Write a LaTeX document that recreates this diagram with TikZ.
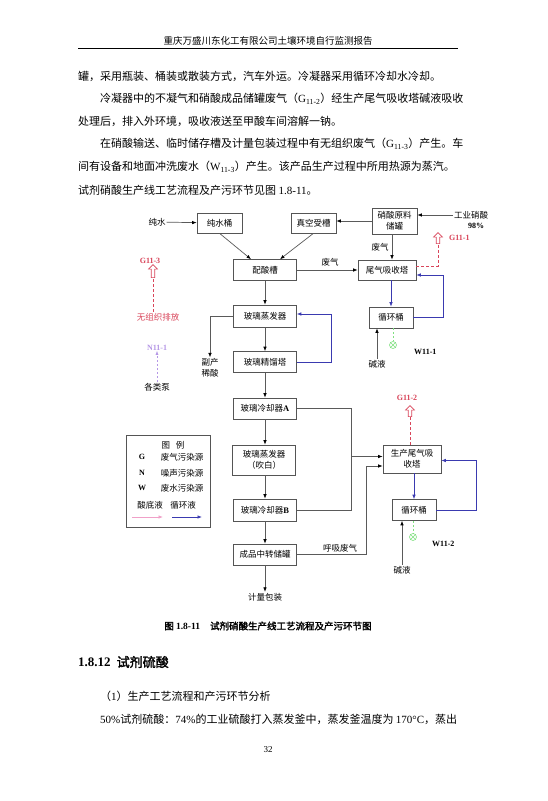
\documentclass[tikz,border=0pt]{standalone}
\usepackage{fontspec}
\setmainfont{Noto Sans CJK SC}[AutoFakeBold=2]
\newfontfamily\tnr{Liberation Serif}
\usetikzlibrary{arrows.meta,shapes.geometric,shapes.arrows}
\definecolor{boxgray}{HTML}{555555}
\definecolor{lgray}{HTML}{5a5a5a}
\definecolor{fblue}{HTML}{3a3ab0}
\definecolor{gred}{HTML}{d9455a}
\definecolor{ggreen}{HTML}{7fe07f}
\definecolor{npurple}{HTML}{b597e6}
\definecolor{lpink}{HTML}{f0a0c8}
\tikzset{
 dtext/.style={font=\fontsize{8.5}{11}\selectfont, align=center, inner sep=1pt},
 box/.style={dtext, draw=boxgray, line width=0.6pt, minimum height=21pt, minimum width=63pt, fill=white},
 flow/.style={draw=lgray, line width=0.7pt, -{Latex[length=4.5pt,width=3.5pt,color=black]}},
 plain/.style={draw=lgray, line width=0.7pt},
 bflow/.style={draw=fblue, line width=0.7pt, -{Latex[length=4.5pt,width=3.5pt]}},
 rdash/.style={draw=gred, line width=0.6pt, dash pattern=on 3pt off 2pt},
 gdash/.style={draw=ggreen, line width=0.6pt, dash pattern=on 2pt off 2pt},
 pflow/.style={draw=npurple, line width=0.6pt, dash pattern=on 2pt off 2pt, -{Latex[length=4pt,width=3pt]}},
 house/.style={single arrow, draw=gred, fill=white, shape border rotate=90, minimum height=11pt, minimum width=9pt, single arrow head extend=1.8pt, inner sep=0.8pt, line width=0.6pt},
 lab/.style={font=\tnr\bfseries\fontsize{8}{9}\selectfont, inner sep=0pt},
 wsym/.style={circle, draw=ggreen, minimum size=7pt, inner sep=0pt, line width=0.6pt},
 body/.style={font=\fontsize{11}{13}\selectfont, anchor=west, inner sep=0pt},
}
\begin{document}
\begin{tikzpicture}[x=1pt,y=-1pt]
\fill[white] (0,0) rectangle (547,801);
\useasboundingbox (0,0) rectangle (547,801);
% header
\node[font=\fontsize{9.5}{11}\selectfont, inner sep=0pt] (hdr) at (268,41) {重庆万盛川东化工有限公司土壤环境自行监测报告};
\coordinate (hl) at (78,48);
\coordinate (hr) at (458,48);
\draw[line width=0.8pt] (hl) -- (hr);
% body text
\node[body] (l1) at (78,76) {罐，采用瓶装、桶装或散装方式，汽车外运。冷凝器采用循环冷却水冷却。};
\node[body] (l2) at (100,99) {冷凝器中的不凝气和硝酸成品储罐废气（{\tnr G\textsubscript{11-2}}）经生产尾气吸收塔碱液吸收};
\node[body] (l3) at (78,121) {处理后，排入外环境，吸收液送至甲酸车间溶解一钠。};
\node[body] (l4) at (100,144) {在硝酸输送、临时储存槽及计量包装过程中有无组织废气（{\tnr G\textsubscript{11-3}}）产生。车};
\node[body] (l5) at (78,167) {间有设备和地面冲洗废水（{\tnr W\textsubscript{11-3}}）产生。该产品生产过程中所用热源为蒸汽。};
\node[body] (l6) at (78,190) {试剂硝酸生产线工艺流程及产污环节见图 {\tnr 1.8-11}。};
% top row
\node[dtext] (cs) at (157,222) {纯水};
\node[box, minimum width=45pt, minimum height=20pt] (cstong) at (219.5,223) {纯水桶};
\node[box, minimum width=45pt, minimum height=20pt] (zkst) at (313.5,223) {真空受槽};
\node[box, minimum width=45pt, minimum height=26pt] (xsyl) at (394.5,221) {硝酸原料\\储罐};
\node[dtext] (gy) at (471,215) {工业硝酸};
\node[lab] (p98) at (476,226) {98\%};
\draw[flow] (cs) -- (cstong);
\draw[flow] (gy.west) -- (gy.west -| xsyl.east);
\draw[flow] ([yshift=2pt]xsyl.west |- zkst) -- ([yshift=2pt]zkst.east);
% mixing
\node[box] (psc) at (265,270) {配酸槽};
\draw[flow] (cstong.south) -- ([xshift=-14pt]psc.north);
\draw[flow] (zkst.south) -- ([xshift=15pt]psc.north);
\node[box, minimum width=58pt, minimum height=20pt] (wq) at (387,270) {尾气吸收塔};
\draw[flow] (psc) -- (wq);
\node[dtext] (fq1) at (330,262) {废气};
\draw[flow] ([xshift=-2.5pt]xsyl.south) -- ([xshift=-2.5pt]xsyl.south |- wq.north);
\node[dtext] (fq2) at (380,247) {废气};
\node[box, minimum width=44pt] (xht1) at (391,317.5) {循环桶};
\draw[bflow] (xht1.north |- wq.south) -- (xht1.north);
\draw[bflow] (xht1.east) -- ++(30,0) |- ([yshift=-5pt]wq.east);
\node[house] (hs1) at (438,239) {};
\node[lab, text=gred, anchor=west] (g111) at (449,238) {G11-1};
\draw[rdash] ([yshift=4pt]wq.east) -| (hs1.tail);
\node[dtext] (jy1) at (377,364) {碱液};
\draw[flow] (jy1.north) -- (jy1.north |- xht1.south);
\node[wsym] (w1) at (393,345) {};
\draw[ggreen, line width=0.5pt] (w1.45) -- (w1.225) (w1.135) -- (w1.315);
\draw[gdash] (w1 |- xht1.south) -- (w1.north);
\node[lab, anchor=west] (w111) at (414,352) {W11-1};
% central column
\node[box, minimum height=22pt] (blzf) at (265,316) {玻璃蒸发器};
\node[box] (bljl) at (265,362) {玻璃精馏塔};
\node[box] (lqA) at (265,408.5) {玻璃冷却器{\tnr\bfseries A}};
\node[box, minimum height=30pt] (zfb) at (264,460) {玻璃蒸发器\\（吹白）};
\node[box, minimum height=22pt] (lqB) at (265,510) {玻璃冷却器{\tnr\bfseries B}};
\node[box] (cp) at (265,554.5) {成品中转储罐};
\node[dtext] (jlbz) at (265,597) {计量包装};
\draw[flow] (psc) -- (blzf);
\draw[flow] (blzf) -- (bljl);
\draw[flow] (bljl) -- (lqA);
\draw[flow] (lqA.south) -- (lqA.south |- zfb.north);
\draw[flow] (zfb.south -| lqB) -- (lqB.north);
\draw[flow] (lqB) -- (cp);
\draw[flow] (cp) -- (jlbz);
\draw[bflow] (bljl.east) -- ++(35,0) |- ([yshift=2pt]blzf.east);
\node[dtext] (fcxs) at (210,368) {副产\\稀酸};
\draw[flow] (blzf.west) -| (fcxs.north);
% right lower
\node[box, minimum width=58pt, minimum height=28pt] (scwq) at (412,459) {生产尾气吸\\收塔};
\node[lab, text=gred] (g112) at (407,398) {G11-2};
\node[house] (hs2) at (410,412) {};
\draw[rdash] (scwq.north -| hs2) -- (hs2.tail);
\draw[plain] (lqA.east) -- ++(55,0) coordinate (jA) |- (lqB.east);
\coordinate (inA) at ([yshift=2.5pt]scwq.west);
\draw[flow] (jA |- inA) -- (inA);
\coordinate (inB) at ([yshift=-7pt]scwq.west);
\draw[flow] (cp.east) -- ++(70,0) |- (inB);
\node[dtext] (hxfq) at (340,548) {呼吸废气};
\node[box, minimum width=44pt] (xht2) at (414,510) {循环桶};
\draw[bflow] (xht2.north |- scwq.south) -- (xht2.north);
\draw[bflow] (xht2.east) -- ++(40,0) |- ([yshift=-1.5pt]scwq.east);
\node[dtext] (jy2) at (402,570) {碱液};
\draw[flow] (jy2.north) -- (jy2.north |- xht2.south);
\node[wsym] (w2) at (413,537) {};
\draw[ggreen, line width=0.5pt] (w2.45) -- (w2.225) (w2.135) -- (w2.315);
\draw[gdash] (w2 |- xht2.south) -- (w2.north);
\node[lab, anchor=west] (w112) at (432,544) {W11-2};
% left
\node[lab, text=gred] (g113) at (150,261) {G11-3};
\node[house, minimum height=13pt] (hs3) at (153,272) {};
\node[dtext, text=gred] (wzz) at (158,317) {无组织排放};
\draw[rdash] (wzz.north -| hs3) -- (hs3.tail);
\node[lab, text=npurple] (n111) at (157,348) {N11-1};
\node[dtext] (glb) at (157,387) {各类泵};
\draw[pflow] (glb.north) -- (n111.south);
% legend
\node[draw=boxgray, line width=0.6pt, minimum width=84pt, minimum height=92pt] (lg) at (168,481) {};
\node[dtext] (lgt) at (173,445) {图\hspace{6pt}例};
\node[lab] (lgG) at (142,457) {G};
\node[dtext] (lgGt) at (182,457) {废气污染源};
\node[lab] (lgN) at (142,473) {N};
\node[dtext] (lgNt) at (182,473) {噪声污染源};
\node[lab] (lgW) at (142,488) {W};
\node[dtext] (lgWt) at (182,488) {废水污染源};
\node[dtext] (lgs) at (150,505) {酸底液};
\node[dtext] (lgx) at (183,505) {循环液};
\coordinate (pa1) at (132,517);
\coordinate (pa2) at (163,517);
\coordinate (ba1) at (172,517);
\coordinate (ba2) at (202,517);
\draw[draw=lpink, line width=0.7pt, -{Latex[length=4.5pt,width=3.5pt]}] (pa1) -- (pa2);
\draw[bflow] (ba1) -- (ba2);
% caption and following text
\node[font=\bfseries\fontsize{9.5}{11}\selectfont, inner sep=0pt] (cap) at (268,626) {图 {\tnr\bfseries 1.8-11}\hspace{10pt}试剂硝酸生产线工艺流程及产污环节图};
\node[font=\bfseries\fontsize{13}{15}\selectfont, anchor=west, inner sep=0pt] (sec) at (78,662) {{\tnr\bfseries 1.8.12}\hspace{6pt}试剂硫酸};
\node[body] (s1) at (100,696) {（{\tnr 1}）生产工艺流程和产污环节分析};
\node[body] (s2) at (100,719) {{\tnr 50\%}试剂硫酸：{\tnr 74\%}的工业硫酸打入蒸发釜中，蒸发釜温度为 {\tnr 170°C}，蒸出};
\node[font=\tnr\fontsize{9}{10}\selectfont, inner sep=0pt] (pg) at (268,750) {32};
\end{tikzpicture}
\end{document}
